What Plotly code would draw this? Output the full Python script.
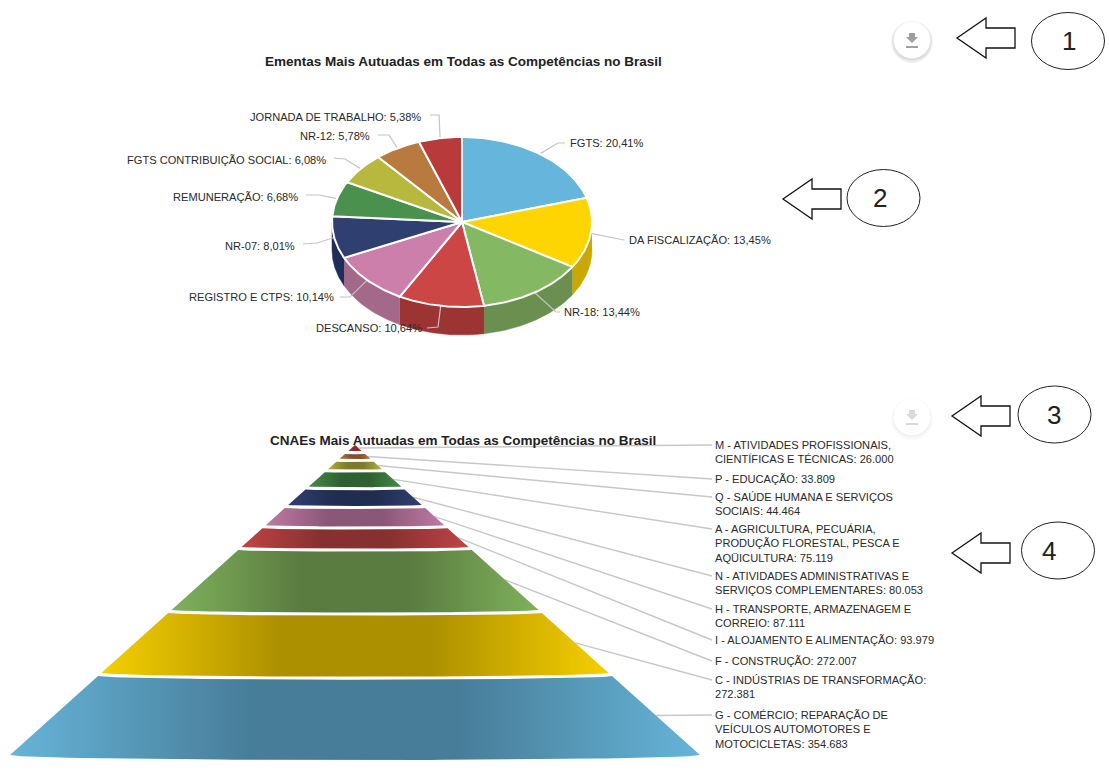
import numpy as np
import plotly.graph_objects as go

# ---------- data ----------
ementa_names = ["FGTS", "DA FISCALIZAÇÃO", "NR-18", "DESCANSO", "REGISTRO E CTPS", "NR-07",
                "REMUNERAÇÃO", "FGTS CONTRIBUIÇÃO SOCIAL", "NR-12", "JORNADA DE TRABALHO"]
ementa_pct = [20.41, 13.45, 13.44, 10.64, 10.14, 8.01, 6.68, 6.08, 5.78, 5.38]

cnae_lines = [
    ["M - ATIVIDADES PROFISSIONAIS,", "CIENTÍFICAS E TÉCNICAS"],
    ["P - EDUCAÇÃO"],
    ["Q - SAÚDE HUMANA E SERVIÇOS", "SOCIAIS"],
    ["A - AGRICULTURA, PECUÁRIA,", "PRODUÇÃO FLORESTAL, PESCA E", "AQÜICULTURA"],
    ["N - ATIVIDADES ADMINISTRATIVAS E", "SERVIÇOS COMPLEMENTARES"],
    ["H - TRANSPORTE, ARMAZENAGEM E", "CORREIO"],
    ["I - ALOJAMENTO E ALIMENTAÇÃO"],
    ["F - CONSTRUÇÃO"],
    ["C - INDÚSTRIAS DE TRANSFORMAÇÃO"],
    ["G - COMÉRCIO; REPARAÇÃO DE", "VEÍCULOS AUTOMOTORES E", "MOTOCICLETAS"],
]
cnae_values = [26000, 33809, 44464, 75119, 80053, 87111, 93979, 272007, 272381, 354683]
cnae_value_break = [False, False, False, False, False, False, False, False, True, False]

title_pie = "Ementas Mais Autuadas em Todas as Competências no Brasil"
title_pyr = "CNAEs Mais Autuadas em Todas as Competências no Brasil"

# ---------- styles and layout ----------
pie_top = ["#65b5dc", "#ffd500", "#85b863", "#cc4646", "#cc7fab",
           "#2f3f70", "#4a914e", "#b8b83f", "#b87a3f", "#b83a3a"]
pie_side = ["#4d89a8", "#c9a800", "#6b8f4e", "#9c3434", "#a4688b",
            "#1f2d57", "#38703b", "#8f8f30", "#8f5f30", "#8f2d2d"]
pyr_edge = ["#b83a3a", "#b8763c", "#b0b03c", "#458a49", "#2f3f73",
            "#c07aa3", "#c04444", "#7fb15c", "#f6cf00", "#66b4d8"]
pyr_mid = ["#8a2c2c", "#80522a", "#7c7c2a", "#2f6032", "#202c50",
           "#8a5776", "#873030", "#5b7c40", "#ad9000", "#477d99"]

CX, CY, RX, RY, DEPTH = 462, 222, 130, 85, 28
PX, PTOP, PBOTTOM, PHALF, GAP, SAG = 355, 445, 755, 345, 3.0, 0.0145

# label anchor, text position, and leader elbow for the pie
pie_label_x = [568, 627, 562, 424, 336, 297, 300, 328, 372, 423]
pie_label_y = [143, 240, 312, 328, 297, 246, 197, 160, 136, 117]
pie_anchor = ["left", "left", "left", "right", "right", "right", "right", "right", "right", "right"]
pie_elbow_x = [558, 610, 556, 438, 350, 317, 319, 345, 389, 439]
pie_elbow_y = [143, 237, 312, 327, 297, 243, 195, 159, 135, 115]
pie_end_x = [565, 624, 560, 427, 340, 303, 306, 334, 378, 430]
pie_end_y = [143, 240, 312, 328, 297, 244, 195, 158, 135, 115]

# first-line centre of each pyramid label
pyr_label_x = 714
pyr_label_y = [445, 479, 497, 529, 576, 609, 640, 661, 680, 715]

fig = go.Figure()


def ang(pct):
    return np.asarray(pct) * 3.6 * np.pi / 180


# ---------- pie ----------
edges = np.concatenate([[0], np.cumsum(ementa_pct)])
edges = edges / edges[-1] * 100
# side walls
for i in range(len(ementa_pct)):
    a, b = max(edges[i], 25), min(edges[i + 1], 75)
    if b <= a:
        continue
    t = ang(np.linspace(a, b, 60))
    xs = CX + RX * np.sin(t)
    ys = CY - RY * np.cos(t)
    fig.add_trace(go.Scatter(x=np.r_[xs, xs[::-1]], y=np.r_[ys, ys[::-1] + DEPTH], mode="lines",
                             fill="toself", fillcolor=pie_side[i], line=dict(width=0.5, color=pie_side[i]),
                             hoverinfo="skip"))
# leaders under the top faces
mids = (edges[:-1] + edges[1:]) / 2
for i in range(len(ementa_pct)):
    t = ang(mids[i])
    fig.add_trace(go.Scatter(x=[CX + RX * np.sin(t), pie_elbow_x[i], pie_end_x[i]],
                             y=[CY - RY * np.cos(t), pie_elbow_y[i], pie_end_y[i]],
                             mode="lines", line=dict(color="#c4c4c4", width=1.2), hoverinfo="skip"))
# top faces
for i in range(len(ementa_pct)):
    t = ang(np.linspace(edges[i], edges[i + 1], 60))
    xs = np.r_[CX, CX + RX * np.sin(t), CX]
    ys = np.r_[CY, CY - RY * np.cos(t), CY]
    fig.add_trace(go.Scatter(x=xs, y=ys, mode="lines", fill="toself", fillcolor=pie_top[i],
                             line=dict(color="white", width=2), hoverinfo="skip"))

# ---------- pyramid ----------
k = (PBOTTOM - PTOP) / sum(cnae_values)
slope = PHALF / (PBOTTOM - PTOP)
cum = np.concatenate([[0], np.cumsum(cnae_values)]) * k + PTOP
for i in range(len(cnae_values)):
    top = cum[i] + (GAP if i else 0)
    bot = max(cum[i + 1], top + 1.5)
    u = np.linspace(-1, 1, 60)
    w_top = (top - PTOP) * slope
    w_bot = (bot - PTOP) * slope
    xt = PX + w_top * u
    yt = top + w_top * SAG * np.sqrt(1 - u ** 2)
    xb = PX + w_bot * u[::-1]
    yb = bot + w_bot * SAG * np.sqrt(1 - u ** 2)
    # leader from the middle of the band's right edge
    ym = (top + bot) / 2
    fig.add_trace(go.Scatter(x=[PX + (ym - PTOP) * slope, pyr_label_x - 2], y=[ym, pyr_label_y[i]],
                             mode="lines", line=dict(color="#c8c8c8", width=1.4), hoverinfo="skip"))
    fig.add_trace(go.Scatter(x=np.r_[xt, xb, xt[0]], y=np.r_[yt, yb, yt[0]], mode="lines", fill="toself",
                             line=dict(width=0),
                             fillgradient=dict(type="horizontal", colorscale=[
                                 [0, pyr_edge[i]], [0.35, pyr_mid[i]], [0.65, pyr_mid[i]], [1, pyr_edge[i]]]),
                             hoverinfo="skip"))

# ---------- text ----------
ann = []
TXT = "#2a2a2a"
FONT = "Liberation Sans"
ann.append(dict(x=463, y=61, text=f"<b>{title_pie}</b>", showarrow=False, xanchor="center", yanchor="middle",
                font=dict(family=FONT, size=13.5, color="#222222")))
ann.append(dict(x=463, y=440, text=f"<b>{title_pyr}</b>", showarrow=False, xanchor="center", yanchor="middle",
                font=dict(family=FONT, size=13.5, color="#222222")))
for i, name in enumerate(ementa_names):
    ann.append(dict(x=pie_label_x[i], y=pie_label_y[i], text=f"{name}: {ementa_pct[i]:.2f}%".replace(".", ","),
                    showarrow=False, xanchor=pie_anchor[i], yanchor="middle",
                    font=dict(family=FONT, size=11.1, color=TXT)))
for i, lines in enumerate(cnae_lines):
    val = f"{cnae_values[i]:,}".replace(",", ".")
    if cnae_value_break[i]:
        text = "<br>".join(lines) + f":<br>{val}"
    else:
        text = "<br>".join(lines) + f": {val}"
    ann.append(dict(x=pyr_label_x, y=pyr_label_y[i] - 7, text=text, showarrow=False, xanchor="left",
                    yanchor="top", align="left", borderpad=0,
                    font=dict(family=FONT, size=11.1, color=TXT)))

# ---------- buttons and callouts ----------
shapes = []


def circle(cx, cy, r, **kw):
    return dict(type="circle", x0=cx - r, x1=cx + r, y0=cy - r, y1=cy + r, xref="x", yref="y", **kw)


for (bx, by, col, sh) in [(912, 40, "#9e9e9e", 0.05), (912, 417, "#d9d9d9", 0.02)]:
    for r, dy in [(21, 2), (20, 1.5), (19, 1)]:
        shapes.append(circle(bx, by + dy, r, fillcolor=f"rgba(0,0,0,{sh})", line=dict(width=0)))
    shapes.append(circle(bx, by, 18.5, fillcolor="white", line=dict(width=0)))
    shapes.append(dict(type="path", xref="x", yref="y", fillcolor=col, line=dict(width=0),
                       path=f"M{bx-3},{by-7} L{bx+3},{by-7} L{bx+3},{by-3} L{bx+6},{by-3} L{bx},{by+3} "
                            f"L{bx-6},{by-3} L{bx-3},{by-3} Z"))
    shapes.append(dict(type="line", xref="x", yref="y", x0=bx - 6, x1=bx + 6, y0=by + 7, y1=by + 7,
                       line=dict(color=col, width=2)))

callouts = [("1", 957, 38, 1068, 41, 1069), ("2", 783, 199, 883.5, 198, 880),
            ("3", 952, 416, 1054.5, 414.5, 1054), ("4", 952, 553, 1058, 550.5, 1049)]
for num, tx, ty, ex, ey, nx in callouts:
    shapes.append(dict(type="path", xref="x", yref="y", fillcolor="white", line=dict(color="#111111", width=1.3),
                       path=f"M{tx},{ty} L{tx+29},{ty-20} L{tx+29},{ty-10} L{tx+58},{ty-10} L{tx+58},{ty+10} "
                            f"L{tx+29},{ty+10} L{tx+29},{ty+20} Z"))
    shapes.append(dict(type="circle", xref="x", yref="y", x0=ex - 36.5, x1=ex + 36.5, y0=ey - 28.5, y1=ey + 28.5,
                       fillcolor="white", line=dict(color="#222222", width=1)))
    ann.append(dict(x=nx, y=ey, text=num, showarrow=False, xanchor="center", yanchor="middle",
                    font=dict(family=FONT, size=26, color="#222222")))

fig.update_layout(
    width=1109, height=782, margin=dict(l=0, r=0, t=0, b=0), paper_bgcolor="white", plot_bgcolor="white",
    showlegend=False, hovermode=False, annotations=ann, shapes=shapes,
    xaxis=dict(range=[0, 1109], visible=False, fixedrange=True),
    yaxis=dict(range=[782, 0], visible=False, fixedrange=True),
)
fig.write_html("out.html", config=dict(displayModeBar=False),
               post_script="document.body.style.margin='0';")
